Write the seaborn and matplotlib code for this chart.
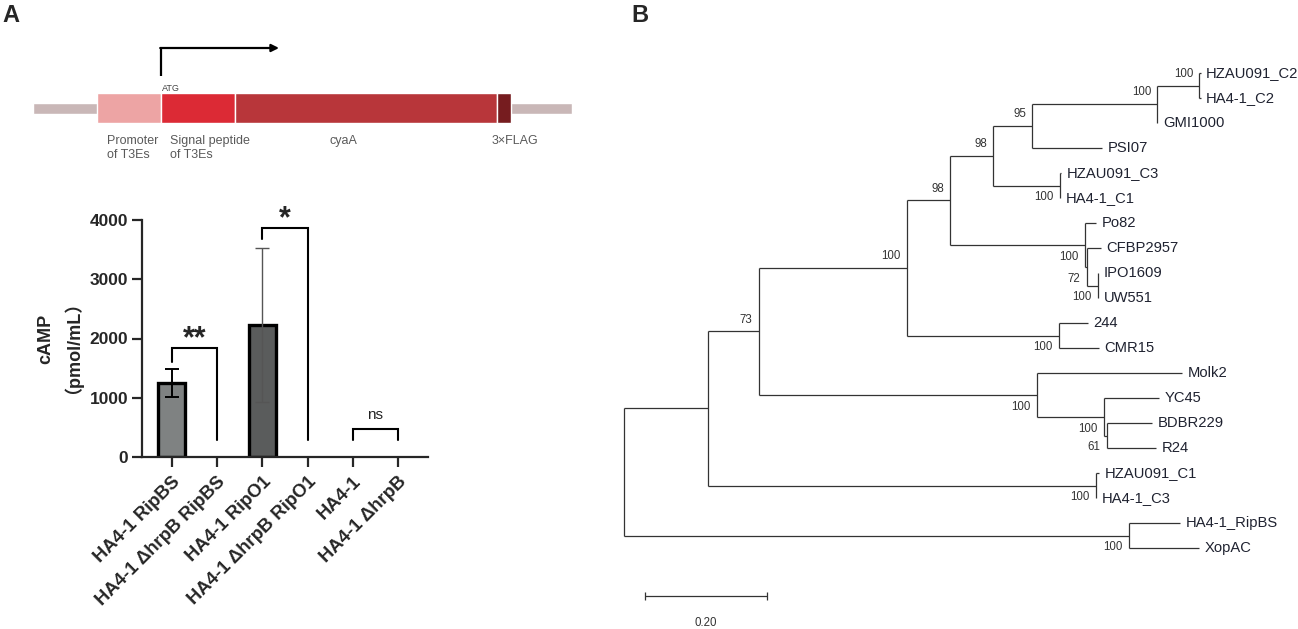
import numpy as np
import pandas as pd
import matplotlib
matplotlib.use("Agg")
import matplotlib.pyplot as plt
import seaborn as sns
from matplotlib import font_manager

# ---------------- data ----------------
# construct schematic (panel A, top)
construct_labels = ["Promoter\nof T3Es", "Signal peptide\nof T3Es", "cyaA", "3×FLAG"]
construct_sizes = [64, 74, 262, 14]
flank_sizes = [64, 61]

# cAMP assay (panel A, bottom)
strains = ["HA4-1 RipBS", "HA4-1 ΔhrpB RipBS", "HA4-1 RipO1",
           "HA4-1 ΔhrpB RipO1", "HA4-1", "HA4-1 ΔhrpB"]
camp_mean = [1250, 0, 2230, 0, 0, 0]
camp_sd = [235, 0, 1295, 0, 0, 0]

sig_pairs = [(0, 1), (2, 3), (4, 5)]
sig_marks = ["**", "*", "ns"]
sig_top = [1840, 3865, 470]
sig_left_end = [1600, 3680, 290]
sig_right_end = [290, 290, 290]

# phylogenetic tree (panel B)
tip_names = ["HZAU091_C2", "HA4-1_C2", "GMI1000", "PSI07", "HZAU091_C3", "HA4-1_C1",
             "Po82", "CFBP2957", "IPO1609", "UW551", "244", "CMR15", "Molk2", "YC45",
             "BDBR229", "R24", "HZAU091_C1", "HA4-1_C3", "HA4-1_RipBS", "XopAC"]
tip_lengths = [0.002, 0.002, 0.0, 0.115, 0.001, 0.0, 0.018, 0.023, 0.0, 0.0,
               0.048, 0.066, 0.239, 0.091, 0.074, 0.081, 0.005, 0.0, 0.084, 0.115]

node_names = ["H", "G", "F", "J", "E", "K", "L", "M", "D", "N",
              "C", "O", "P", "Q", "B", "R", "A", "S", "root"]
node_children = [("HZAU091_C2", "HA4-1_C2"), ("H", "GMI1000"), ("G", "PSI07"),
                 ("HZAU091_C3", "HA4-1_C1"), ("F", "J"), ("IPO1609", "UW551"),
                 ("CFBP2957", "K"), ("Po82", "L"), ("E", "M"), ("244", "CMR15"),
                 ("D", "N"), ("BDBR229", "R24"), ("YC45", "O"), ("Molk2", "P"),
                 ("C", "Q"), ("HZAU091_C1", "HA4-1_C3"), ("B", "R"),
                 ("HA4-1_RipBS", "XopAC"), ("A", "S")]
node_lengths = [0.069, 0.206, 0.064, 0.110, 0.071, 0.018, 0.003, 0.222, 0.071, 0.250,
                0.244, 0.005, 0.110, 0.458, 0.084, 0.639, 0.138, 0.831, 0.0]
node_support = [100, 100, 95, 100, 98, 100, 72, 100, 98, 100,
                100, 61, 100, 100, 73, 100, None, 100, None]
scale_bar = 0.20

# ---------------- style ----------------
sns.set_style("white")
plt.rcParams["font.family"] = ["Liberation Sans", "Noto Sans CJK SC", "DejaVu Sans"]

installed = {f.name for f in font_manager.fontManager.ttflist}
if "Liberation Sans Narrow" in installed:
    tree_font = "Liberation Sans Narrow"
    tip_size, boot_size = 12.6, 9.6
else:
    tree_font = "Liberation Sans"
    tip_size, boot_size = 10.6, 8.3

W, H = 1298, 629
fig = plt.figure(figsize=(W / 100, H / 100), dpi=100)


def px_rect(x0, y0, x1, y1):
    return [x0 / W, 1 - y1 / H, (x1 - x0) / W, (y1 - y0) / H]


fig.text(2 / W, 1 - 4 / H, "A", fontsize=17, fontweight="bold", va="top", ha="left")
fig.text(631 / W, 1 - 4 / H, "B", fontsize=17, fontweight="bold", va="top", ha="left")

# ---------------- construct ----------------
ax_c = fig.add_axes(px_rect(33, 40, 572, 170))
total = flank_sizes[0] + sum(construct_sizes) + flank_sizes[1]
ax_c.set_xlim(0, total)
ax_c.set_ylim(170, 40)
ax_c.axis("off")

ax_c.barh(108.5, total, height=11, left=0, color="#c9b7b7")
starts = flank_sizes[0] + np.concatenate([[0], np.cumsum(construct_sizes)[:-1]])
part_colors = ["#eda4a4", "#dc2a35", "#b8363a", "#761c1f"]
ax_c.barh([108] * 4, construct_sizes, height=30, left=starts, color=part_colors)

label_shift = [10, 9, 95, -5]
for lab, s, dx in zip(construct_labels, starts, label_shift):
    ax_c.text(s + dx, 135, lab, fontsize=9, color="#5a5a5a", va="top", ha="left",
              linespacing=1.25)

sig_start = starts[1]
ax_c.text(sig_start + 1, 93, "ATG", fontsize=6.5, color="#444444", va="bottom", ha="left")
ax_c.plot([sig_start, sig_start], [76, 48], color="black", lw=1.6, solid_capstyle="butt")
ax_c.annotate("", xy=(sig_start + 118, 48), xytext=(sig_start - 0.8, 48),
              arrowprops=dict(arrowstyle="-|>", lw=1.6, color="black",
                              mutation_scale=11, shrinkA=0, shrinkB=0))

# ---------------- bar chart ----------------
ax = fig.add_axes(px_rect(142, 220, 428, 457))
df = pd.DataFrame({"strain": strains, "camp": camp_mean})
bar_colors = ["#7f8282", "#7f8282", "#5a5c5c", "#5a5c5c", "#7f8282", "#7f8282"]
sns.barplot(data=df, x="strain", y="camp", hue="strain", palette=bar_colors,
            width=0.6, edgecolor="black", linewidth=2.4, errorbar=None,
            legend=False, ax=ax, zorder=2)
for p in ax.patches:
    if p.get_height() == 0:
        p.set_linewidth(0)

err_style = {0: ("black", 1.4), 2: ("#555555", 1.0)}
for i, (m, s) in enumerate(zip(camp_mean, camp_sd)):
    if s > 0:
        col, w = err_style.get(i, ("black", 1.0))
        ax.errorbar(i, m, yerr=s, color=col, lw=w, capsize=5.2, capthick=w, zorder=4)

for (i, j), mark, top, le, re in zip(sig_pairs, sig_marks, sig_top, sig_left_end, sig_right_end):
    ax.plot([i, i, j, j], [le, top, top, re], color="black", lw=1.5,
            solid_joinstyle="miter", clip_on=False, zorder=5)
    if mark == "ns":
        ax.annotate(mark, xy=((i + j) / 2, top), xytext=(0, 10), textcoords="offset points",
                    ha="center", va="center", fontsize=11, color="#222222")
    else:
        ax.annotate(mark, xy=((i + j) / 2, top), xytext=(0, 6), textcoords="offset points",
                    ha="center", va="center", fontsize=22, fontweight="bold")

ax.set_xlim(-0.66, 5.66)
ax.set_ylim(0, 4000)
ax.set_yticks([0, 1000, 2000, 3000, 4000])
ax.set_xticks(range(len(strains)))
ax.set_xticklabels(strains, rotation=45, ha="right", va="top", rotation_mode="anchor",
                   fontsize=13.3, fontweight="bold")
for t in ax.get_yticklabels():
    t.set_fontweight("bold")
    t.set_fontsize(12.5)
ax.set_xlabel("")
ax.set_ylabel("cAMP", fontsize=13, fontweight="bold", va="center")
ax.yaxis.set_label_coords(-0.335, 0.5)
ax.text(-0.277, 0.5, "（pmol/mL）", transform=ax.transAxes, rotation=90,
        ha="center", va="center", fontsize=13, fontweight="bold")
sns.despine(ax=ax)
for side in ["left", "bottom"]:
    ax.spines[side].set_linewidth(1.6)
ax.tick_params(axis="y", length=7, width=1.6, pad=3, left=True)
ax.tick_params(axis="x", length=7.5, width=1.6, pad=4, bottom=True)

# ---------------- tree ----------------
root_px, unit_px, leaf0_px, step_px = 624, 607.5, 73, 25
xlim = (-0.06, 1.1)
ylim = (22.2, -1.5)
ax_t = fig.add_axes(px_rect(root_px + xlim[0] * unit_px, leaf0_px + ylim[1] * step_px,
                            root_px + xlim[1] * unit_px, leaf0_px + ylim[0] * step_px))
ax_t.set_xlim(*xlim)
ax_t.set_ylim(*ylim)
ax_t.axis("off")

length = dict(zip(tip_names, tip_lengths))
length.update(zip(node_names, node_lengths))
children = dict(zip(node_names, node_children))
support = dict(zip(node_names, node_support))
ypos = {n: float(k) for k, n in enumerate(tip_names)}
for n, (a, b) in zip(node_names, node_children):
    ypos[n] = (ypos[a] + ypos[b]) / 2
xpos = {"root": 0.0}
upper = {}
for n in reversed(node_names):
    a, b = children[n]
    for c in (a, b):
        xpos[c] = xpos[n] + length[c]
    upper[a], upper[b] = True, False

line_kw = dict(color="#333333", lw=0.9, solid_capstyle="butt")
for n in node_names:
    a, b = children[n]
    ax_t.plot([xpos[n], xpos[n]], [ypos[a], ypos[b]], **line_kw)
    for c in (a, b):
        ax_t.plot([xpos[n], xpos[c]], [ypos[c], ypos[c]], **line_kw)

for n in tip_names:
    ax_t.annotate(n, xy=(xpos[n], ypos[n]), xytext=(4, 0), textcoords="offset points",
                  ha="left", va="center", fontsize=tip_size, family=tree_font,
                  color="#1f2230")

for n in node_names:
    if support[n] is None:
        continue
    dy = 8.5 if upper.get(n, False) else -8.5
    ax_t.annotate(str(support[n]), xy=(xpos[n], ypos[n]), xytext=(-4.5, dy),
                  textcoords="offset points", ha="right", va="center",
                  fontsize=boot_size, family=tree_font, color="#333333")

sb_x0 = 0.035
sb_y = len(tip_names) + 0.92
ax_t.plot([sb_x0, sb_x0 + scale_bar], [sb_y, sb_y], **line_kw)
for xe in (sb_x0, sb_x0 + scale_bar):
    ax_t.plot([xe, xe], [sb_y - 0.15, sb_y + 0.15], **line_kw)
ax_t.text(sb_x0 + scale_bar / 2, sb_y + 1.08, f"{scale_bar:.2f}", ha="center", va="center",
          fontsize=boot_size, family=tree_font, color="#333333")

fig.savefig("out.png", dpi=100)
